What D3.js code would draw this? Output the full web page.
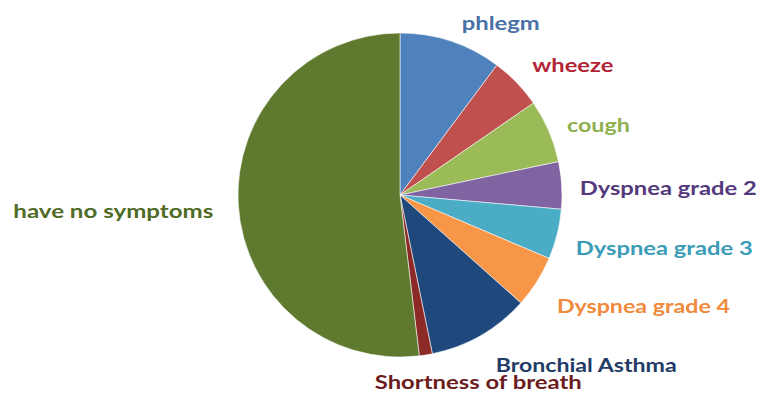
<!DOCTYPE html>
<html>
<head>
<meta charset="utf-8">
<script src="https://cdn.jsdelivr.net/npm/d3@7/dist/d3.min.js"></script>
<style>
  html, body { margin: 0; padding: 0; background: #ffffff; }
  svg { display: block; }
</style>
</head>
<body>
<svg id="chart" width="760" height="394"></svg>
<script>
// ---- Data ----
const categories = ["phlegm", "wheeze", "cough", "Dyspnea grade 2", "Dyspnea grade 3",
                    "Dyspnea grade 4", "Bronchial Asthma", "Shortness of breath", "have no symptoms"];
const values = [10.2, 5.2, 6.3, 4.7, 5.0, 5.2, 10.2, 1.3, 51.9];

// ---- Styles / layout (not data) ----
const sliceColors = ["#4f81bd", "#c0504d", "#9bbb59", "#8064a2", "#4bacc6",
                     "#f79646", "#1f497d", "#8c2a28", "#5f7a2e"];
const labelColors = ["#4a70a8", "#b02535", "#8fb050", "#533a7c", "#3b9cb8",
                     "#f08a3c", "#1f3c66", "#6b1c1c", "#4f6b25"];
const labelNudge = [[7, 0], [7, -2], [7, 6], [6, 10], [7, 18], [10, 25], [9, 26], [-53, 22], [-13, 13]];
const labelWidths = [78, 81, 63, 177, 177, 173, 181, 207, 200];

const cx = 400, cy = 195, r = 162;
const svg = d3.select("#chart");
const g = svg.append("g").attr("transform", `translate(${cx},${cy})`);

const data = categories.map((c, i) => ({ name: c, value: values[i], i }));
const pie = d3.pie().value(d => d.value).sort(null).startAngle(0).endAngle(2 * Math.PI);
const arcs = pie(data);
const arc = d3.arc().innerRadius(0).outerRadius(r);
const labelArc = d3.arc().innerRadius(r + 12).outerRadius(r + 12);

g.selectAll("path.slice")
  .data(arcs)
  .enter().append("path")
  .attr("class", "slice")
  .attr("d", arc)
  .attr("fill", d => sliceColors[d.data.i])
  .attr("stroke", "#ffffff")
  .attr("stroke-opacity", 0.7)
  .attr("stroke-width", 0.8);

g.selectAll("text.label")
  .data(arcs)
  .enter().append("text")
  .attr("class", "label")
  .attr("x", d => labelArc.centroid(d)[0] + labelNudge[d.data.i][0])
  .attr("y", d => labelArc.centroid(d)[1] + labelNudge[d.data.i][1])
  .attr("text-anchor", d => {
    const mid = (d.startAngle + d.endAngle) / 2;
    if (d.data.i === 7) return "start";
    return mid > Math.PI ? "end" : "start";
  })
  .attr("textLength", d => labelWidths[d.data.i])
  .attr("lengthAdjust", "spacingAndGlyphs")
  .attr("font-family", "Lato, 'Open Sans', sans-serif")
  .attr("font-weight", "bold")
  .attr("font-size", 18)
  .attr("fill", d => labelColors[d.data.i])
  .text(d => d.data.name);
</script>
</body>
</html>
